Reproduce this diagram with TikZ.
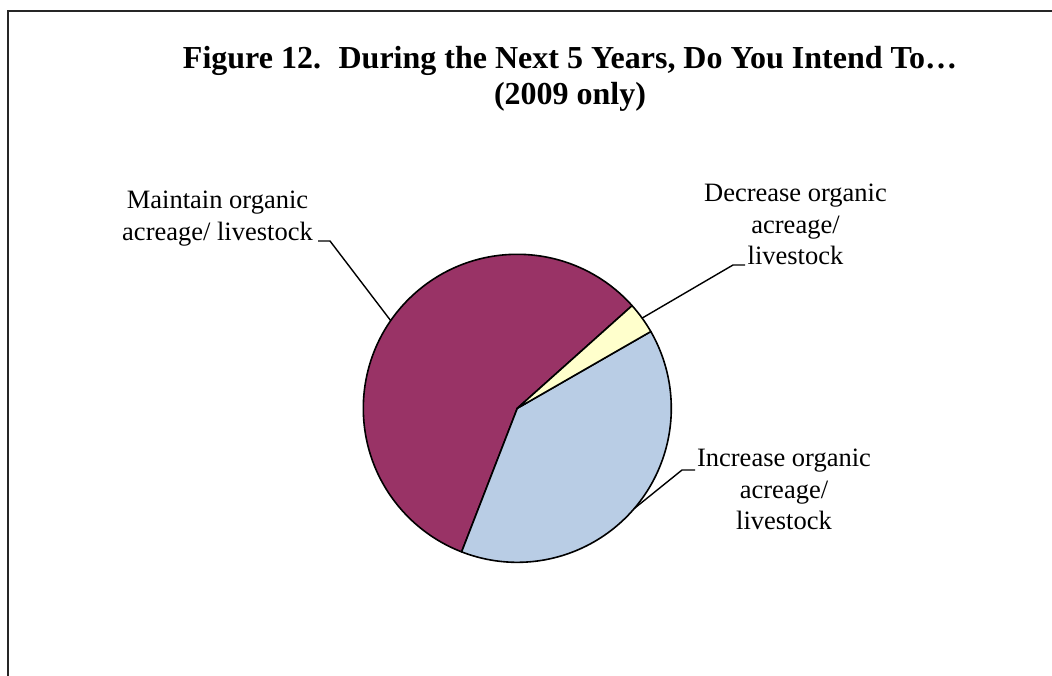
\documentclass[tikz,border=0pt]{standalone}
\usepackage{fontspec}
\setmainfont{Liberation Serif}
\usetikzlibrary{calc}
\definecolor{maroonslice}{RGB}{153,51,102}
\definecolor{yellowslice}{RGB}{255,255,204}
\definecolor{blueslice}{RGB}{185,205,229}
\setlength\tabcolsep{0pt}
\begin{document}
\begin{tikzpicture}[x=1pt,y=1pt,
  slice/.style={draw=black,line width=1.6pt,line join=round},
  leader/.style={draw=black,line width=1.4pt},
  lbl/.style={inner sep=0pt,anchor=base,font=\fontsize{26.5}{31.5}\selectfont},
  ttl/.style={inner sep=0pt,anchor=base,font=\bfseries\fontsize{32}{35.5}\selectfont}]
\useasboundingbox (0,0) rectangle (1052,675);
\fill[white] (0,0) rectangle (1052,675);
% frame (right and bottom edges lie outside the picture)
\draw[line width=2pt,black!85] (1060,664) -- (7.5,664) -- (7.5,-10);
% title
\node[ttl] (title) at (570,606) {\begin{tabular}[t]{c}Figure 12.\hspace{0.55em}During the Next 5 Years, Do You Intend To\ldots\\(2009 only)\end{tabular}};
% pie
\coordinate (c) at (517.3,266.7);
\def\R{154}
\filldraw[slice,fill=maroonslice] (c) -- ($(c)+(41.8:\R)$) arc[start angle=41.8,end angle=248.8,radius=\R] -- cycle;
\filldraw[slice,fill=blueslice] (c) -- ($(c)+(-111.2:\R)$) arc[start angle=-111.2,end angle=29.9,radius=\R] -- cycle;
\filldraw[slice,fill=yellowslice] (c) -- ($(c)+(29.9:\R)$) arc[start angle=29.9,end angle=41.8,radius=\R] -- cycle;
% labels
\node[lbl] (maintain) at (217.5,466) {\begin{tabular}[t]{c}Maintain organic\\acreage/ livestock\end{tabular}};
\node[lbl] (decrease) at (795.5,473) {\begin{tabular}[t]{c}Decrease organic\\acreage/\\livestock\end{tabular}};
\node[lbl] (increase) at (784,208.3) {\begin{tabular}[t]{c}Increase organic\\acreage/\\livestock\end{tabular}};
% leader points
\coordinate (mP) at ($(c)+(145.3:\R)$);
\coordinate (mK) at (330,434);
\coordinate (mT) at (318,434);
\coordinate (dP) at ($(c)+(35.85:\R)$);
\coordinate (dK) at (733,410);
\coordinate (dT) at (745,410);
\coordinate (iP) at ($(c)+(-40.65:\R)$);
\coordinate (iK) at (682,205);
\coordinate (iT) at (695,205);
\draw[leader] (mT) -- (mK) -- (mP);
\draw[leader] (dT) -- (dK) -- (dP);
\draw[leader] (iT) -- (iK) -- (iP);
\end{tikzpicture}
\end{document}
